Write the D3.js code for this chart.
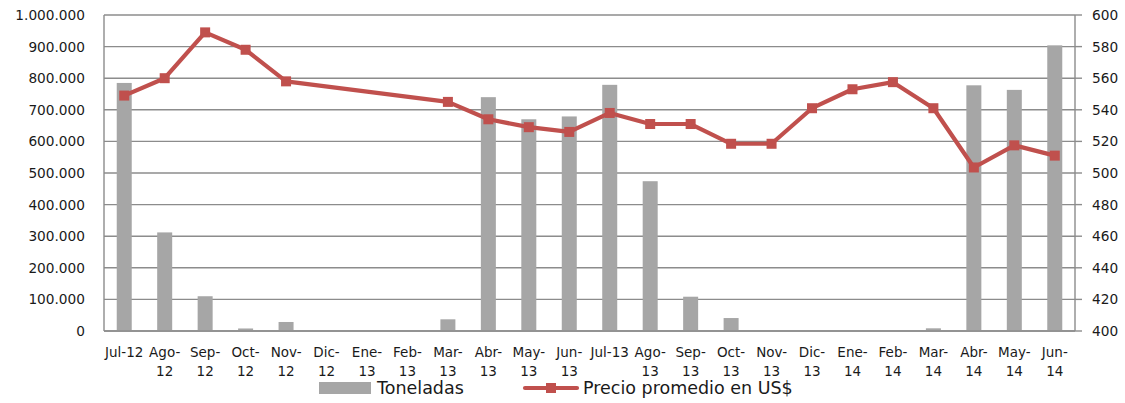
<!DOCTYPE html>
<html>
<head>
<meta charset="utf-8">
<script src="https://cdn.jsdelivr.net/npm/d3@7"></script>
<style>
  html, body { margin: 0; padding: 0; background: #fff; }
  svg { display: block; }
  text { font-family: "DejaVu Sans", sans-serif; fill: #1a1a1a; }
</style>
</head>
<body>
<svg id="chart" width="1125" height="403"></svg>
<script>
const categories = ["Jul-12","Ago-12","Sep-12","Oct-12","Nov-12","Dic-12","Ene-13","Feb-13","Mar-13","Abr-13","May-13","Jun-13","Jul-13","Ago-13","Sep-13","Oct-13","Nov-13","Dic-13","Ene-14","Feb-14","Mar-14","Abr-14","May-14","Jun-14"];
const toneladas = [785000, 312000, 110000, 8000, 28500, 0, 0, 0, 37000, 740000, 670000, 679000, 779000, 474000, 108500, 41000, 0, 0, 0, 0, 8500, 777500, 763000, 904000];
const precio = [549, 560, 589, 578, 558, null, null, null, 545, 534, 529, 526, 538, 531, 531, 518.5, 518.5, 541, 553, 557.5, 541, 503.5, 517.5, 511];
const leftTicks = [0,100000,200000,300000,400000,500000,600000,700000,800000,900000,1000000];
const rightTicks = [400,420,440,460,480,500,520,540,560,580,600];
const seriesNames = ["Toneladas", "Precio promedio en US$"];

const svg = d3.select("#chart");
const L = 104, R = 1075, T = 15, B = 331;

const x = d3.scaleBand().domain(categories).range([L, R]).paddingInner(0).paddingOuter(0);
const yL = d3.scaleLinear().domain([0, 1000000]).range([B, T]);
const yR = d3.scaleLinear().domain([400, 600]).range([B, T]);

const fmt = d => d === 0 ? "0" : d3.format(",")(d).replace(/,/g, ".");

// gridlines
svg.append("g").selectAll("line").data(leftTicks).join("line")
  .attr("x1", L).attr("x2", R)
  .attr("y1", d => yL(d)).attr("y2", d => yL(d))
  .attr("stroke", "#8c8c8c").attr("stroke-width", 1.4);

// bars
const bw = 15;
svg.append("g").selectAll("rect").data(toneladas.map((v, i) => ({c: categories[i], v})).filter(d => d.v > 0)).join("rect")
  .attr("x", d => x(d.c) + x.bandwidth() / 2 - bw / 2)
  .attr("width", bw)
  .attr("y", d => yL(d.v))
  .attr("height", d => B - yL(d.v))
  .attr("fill", "#a6a6a6");

// axes lines
svg.append("line").attr("x1", L).attr("x2", L).attr("y1", T).attr("y2", B)
  .attr("stroke", "#8c8c8c").attr("stroke-width", 1.4);
svg.append("line").attr("x1", R).attr("x2", R).attr("y1", T).attr("y2", B)
  .attr("stroke", "#8c8c8c").attr("stroke-width", 1.4);
svg.append("line").attr("x1", L).attr("x2", R).attr("y1", B).attr("y2", B)
  .attr("stroke", "#8c8c8c").attr("stroke-width", 1.6);

// right ticks
svg.append("g").selectAll("line").data(rightTicks).join("line")
  .attr("x1", R).attr("x2", R + 7)
  .attr("y1", d => yR(d)).attr("y2", d => yR(d))
  .attr("stroke", "#8c8c8c").attr("stroke-width", 1.4);

// left labels
svg.append("g").selectAll("text").data(leftTicks).join("text")
  .attr("x", 85).attr("y", d => yL(d)).attr("dy", "0.36em")
  .attr("text-anchor", "end").style("font-size", "13.7px")
  .text(fmt);

// right labels
svg.append("g").selectAll("text").data(rightTicks).join("text")
  .attr("x", 1092).attr("y", d => yR(d)).attr("dy", "0.36em")
  .attr("text-anchor", "start").style("font-size", "13.7px")
  .text(d => d);

// x labels
const xl = svg.append("g").selectAll("text").data(categories).join("text")
  .attr("text-anchor", "middle").style("font-size", "13.5px")
  .attr("transform", d => `translate(${x(d) + x.bandwidth() / 2},0)`);
xl.each(function(d) {
  const t = d3.select(this);
  if (d.startsWith("Jul")) {
    t.append("tspan").attr("x", 0).attr("y", 357).text(d);
  } else {
    const parts = d.split("-");
    t.append("tspan").attr("x", 0).attr("y", 357).text(parts[0] + "-");
    t.append("tspan").attr("x", 0).attr("y", 376).text(parts[1]);
  }
});

// line
const pts = precio.map((v, i) => ({c: categories[i], v})).filter(d => d.v !== null);
const line = d3.line().x(d => x(d.c) + x.bandwidth() / 2).y(d => yR(d.v));
svg.append("path").datum(pts).attr("d", line)
  .attr("fill", "none").attr("stroke", "#c0504d").attr("stroke-width", 4.2)
  .attr("stroke-linejoin", "round").attr("stroke-linecap", "round");
const ms = 10;
svg.append("g").selectAll("rect").data(pts).join("rect")
  .attr("x", d => x(d.c) + x.bandwidth() / 2 - ms / 2)
  .attr("y", d => yR(d.v) - ms / 2)
  .attr("width", ms).attr("height", ms)
  .attr("fill", "#c0504d");

// legend
const lg = svg.append("g");
lg.append("rect").attr("x", 319).attr("y", 382).attr("width", 52).attr("height", 12).attr("fill", "#a6a6a6");
lg.append("text").attr("x", 377).attr("y", 388).attr("dy", "0.36em").style("font-size", "17.5px").text(seriesNames[0]);
lg.append("line").attr("x1", 525).attr("x2", 577).attr("y1", 388).attr("y2", 388)
  .attr("stroke", "#c0504d").attr("stroke-width", 4.2).attr("stroke-linecap", "round");
lg.append("rect").attr("x", 546).attr("y", 383).attr("width", 10).attr("height", 10).attr("fill", "#c0504d");
lg.append("text").attr("x", 583).attr("y", 388).attr("dy", "0.36em").style("font-size", "17.5px").text(seriesNames[1]);
</script>
</body>
</html>
